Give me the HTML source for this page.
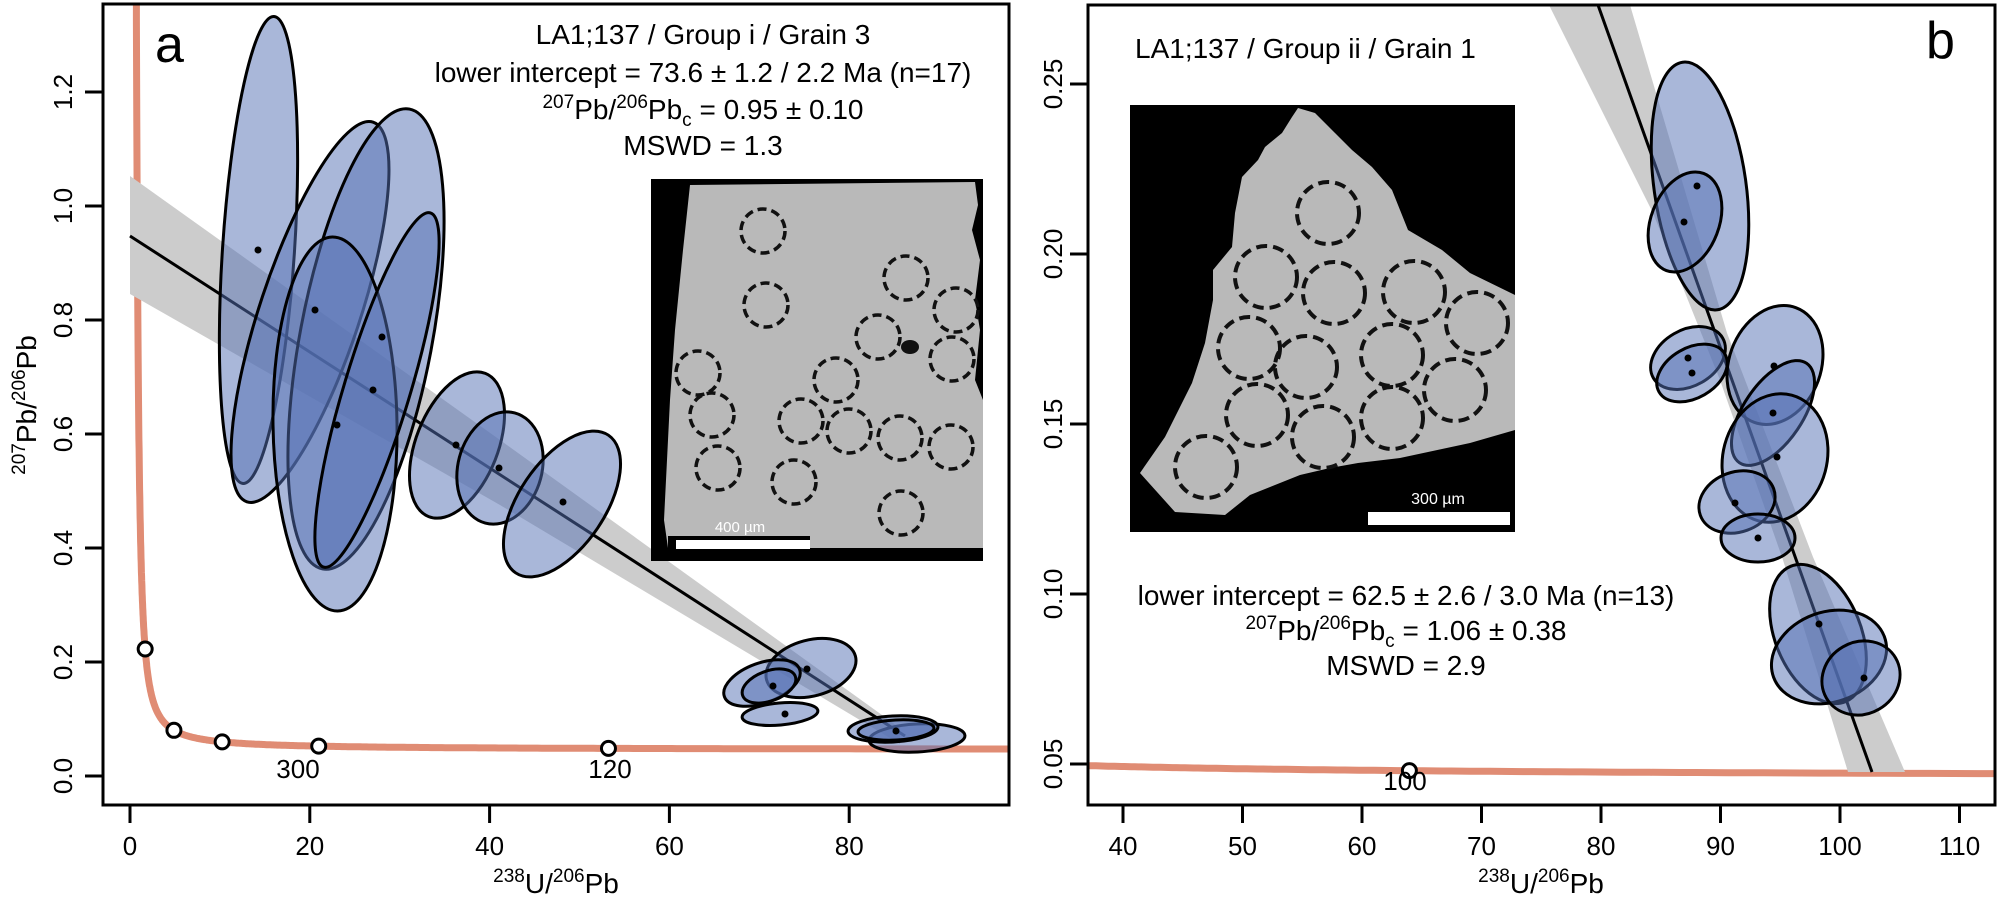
<!DOCTYPE html>
<html><head><meta charset="utf-8"><style>
html,body{margin:0;padding:0;background:#fff;}
svg{display:block;font-family:"Liberation Sans",Arial,sans-serif;}
</style></head><body>
<svg id="s" width="2000" height="903" viewBox="0 0 2000 903" xmlns="http://www.w3.org/2000/svg">
<defs>
<clipPath id="ca"><rect x="103" y="4" width="906" height="801"/></clipPath>
<clipPath id="cb"><rect x="1088" y="5" width="907" height="800"/></clipPath>
</defs>
<rect width="2000" height="903" fill="#fff"/>

<!-- PANEL A -->
<g clip-path="url(#ca)">
<path id="concA" d="" fill="none" stroke="#e08c74" stroke-width="7"/>
<polygon points="130,176 500,440 900,728 900,744 500,505 130,294" fill="#cccccc"/>
<line x1="130" y1="236" x2="905" y2="736" stroke="#000" stroke-width="3"/>
<g fill="rgba(83,111,180,0.5)" stroke="#000" stroke-width="3">
<ellipse cx="258.5" cy="250" rx="36" ry="234" transform="rotate(3.8 258.5 250)"/>
<ellipse cx="310" cy="312" rx="50" ry="200" transform="rotate(18.4 310 312)"/>
<ellipse cx="366" cy="339" rx="66" ry="234" transform="rotate(10.7 366 339)"/>
<ellipse cx="335" cy="424" rx="62" ry="187" transform="rotate(-0.8 335 424)"/>
<ellipse cx="377" cy="390" rx="33" ry="185" transform="rotate(16.8 377 390)"/>
<ellipse cx="457" cy="445" rx="41" ry="77" transform="rotate(21.6 457 445)"/>
<ellipse cx="500" cy="468" rx="42" ry="57" transform="rotate(15 500 468)"/>
<ellipse cx="562" cy="504" rx="43" ry="83" transform="rotate(34 562 504)"/>
<ellipse cx="811" cy="668" rx="46" ry="28" transform="rotate(-15 811 668)"/>
<ellipse cx="762" cy="683" rx="40" ry="20" transform="rotate(-20 762 683)"/>
<ellipse cx="769" cy="686" rx="28" ry="15" transform="rotate(-20 769 686)"/>
<ellipse cx="780" cy="714" rx="38" ry="11" transform="rotate(-5 780 714)"/>
<ellipse cx="917" cy="738" rx="48" ry="14" transform="rotate(-3 917 738)"/>
<ellipse cx="893" cy="729" rx="45" ry="13" transform="rotate(-3 893 729)"/>
<ellipse cx="896" cy="730" rx="38" ry="10" transform="rotate(-3 896 730)"/>
</g>
<g fill="#000">
<circle cx="258" cy="250" r="3.5"/><circle cx="315" cy="310" r="3.5"/><circle cx="382" cy="337" r="3.5"/>
<circle cx="337" cy="425" r="3.5"/><circle cx="373" cy="390" r="3.5"/><circle cx="456" cy="445" r="3.5"/>
<circle cx="499" cy="468" r="3.5"/><circle cx="563" cy="502" r="3.5"/><circle cx="807" cy="669" r="3.5"/>
<circle cx="773" cy="686" r="3.5"/><circle cx="785" cy="714" r="3.5"/><circle cx="896" cy="731" r="3.5"/>
</g>
<g id="circA" fill="#fff" stroke="#000" stroke-width="3"></g>
</g>
<rect x="103" y="4" width="906" height="801" fill="none" stroke="#000" stroke-width="3"/>
<text x="155" y="62" font-size="52">a</text>
<text x="298" y="778" font-size="26" text-anchor="middle">300</text>
<text x="610" y="778" font-size="26" text-anchor="middle">120</text>
<g font-size="28" text-anchor="middle">
<text x="703" y="44">LA1;137  / Group i / Grain 3</text>
<text x="703" y="82">lower intercept = 73.6 ± 1.2 / 2.2 Ma (n=17)</text>
<text x="703" y="119"><tspan font-size="19" dy="-11">207</tspan><tspan dy="11">Pb/</tspan><tspan font-size="19" dy="-11">206</tspan><tspan dy="11">Pb</tspan><tspan font-size="19" dy="7">c</tspan><tspan dy="-7"> = 0.95 ± 0.10</tspan></text>
<text x="703" y="155">MSWD = 1.3</text>
</g>
<!-- inset a -->
<rect x="651" y="179" width="332" height="382" fill="#000"/>
<polygon points="690,185 975,182 978,205 972,230 980,260 975,300 980,330 975,380 983,400 983,548 668,548 664,520 666,480 670,400 675,330 683,250" fill="#b9b9b9"/>
<ellipse cx="910" cy="347" rx="9" ry="7" fill="#111"/>
<g fill="none" stroke="#111" stroke-width="3.5" stroke-dasharray="9 5">
<circle cx="763" cy="231" r="22"/><circle cx="906" cy="278" r="22"/><circle cx="766" cy="305" r="22"/>
<circle cx="956" cy="310" r="22"/><circle cx="878" cy="337" r="22"/><circle cx="952" cy="359" r="22"/>
<circle cx="698" cy="373" r="22"/><circle cx="836" cy="380" r="22"/><circle cx="712" cy="415" r="22"/>
<circle cx="801" cy="421" r="22"/><circle cx="849" cy="431" r="22"/><circle cx="900" cy="438" r="22"/>
<circle cx="951" cy="447" r="22"/><circle cx="718" cy="468" r="22"/><circle cx="794" cy="482" r="22"/>
<circle cx="901" cy="513" r="22"/>
</g>
<rect x="668" y="536" width="142" height="13" fill="#000"/>
<rect x="676" y="540" width="134" height="9" fill="#fff"/>
<text x="740" y="532" font-size="15" fill="#fff" text-anchor="middle">400 µm</text>

<!-- axes a -->
<g stroke="#000" stroke-width="3">
<line x1="85" y1="776" x2="103" y2="776"/><line x1="85" y1="662" x2="103" y2="662"/>
<line x1="85" y1="548" x2="103" y2="548"/><line x1="85" y1="434" x2="103" y2="434"/>
<line x1="85" y1="320" x2="103" y2="320"/><line x1="85" y1="206" x2="103" y2="206"/>
<line x1="85" y1="92" x2="103" y2="92"/>
<line x1="130" y1="805" x2="130" y2="823"/><line x1="309.8" y1="805" x2="309.8" y2="823"/>
<line x1="489.6" y1="805" x2="489.6" y2="823"/><line x1="669.4" y1="805" x2="669.4" y2="823"/>
<line x1="849.2" y1="805" x2="849.2" y2="823"/>
</g>
<g font-size="26" text-anchor="middle">
<text transform="translate(72,776) rotate(-90)">0.0</text>
<text transform="translate(72,662) rotate(-90)">0.2</text>
<text transform="translate(72,548) rotate(-90)">0.4</text>
<text transform="translate(72,434) rotate(-90)">0.6</text>
<text transform="translate(72,320) rotate(-90)">0.8</text>
<text transform="translate(72,206) rotate(-90)">1.0</text>
<text transform="translate(72,92) rotate(-90)">1.2</text>
<text x="130" y="855">0</text><text x="309.8" y="855">20</text><text x="489.6" y="855">40</text>
<text x="669.4" y="855">60</text><text x="849.2" y="855">80</text>
</g>
<text x="556" y="893" font-size="28" text-anchor="middle"><tspan font-size="19" dy="-11">238</tspan><tspan dy="11">U/</tspan><tspan font-size="19" dy="-11">206</tspan><tspan dy="11">Pb</tspan></text>
<text transform="translate(36,405) rotate(-90)" font-size="28" text-anchor="middle"><tspan font-size="19" dy="-11">207</tspan><tspan dy="11">Pb/</tspan><tspan font-size="19" dy="-11">206</tspan><tspan dy="11">Pb</tspan></text>

<!-- PANEL B -->
<g clip-path="url(#cb)">
<path id="concB" d="" fill="none" stroke="#e08c74" stroke-width="7"/>
<polygon points="1549,5 1653,213 1720,380 1783,560 1848,772 1905,772 1813,557 1727,333 1630,5" fill="#cccccc"/>
<line x1="1598" y1="5" x2="1872" y2="772" stroke="#000" stroke-width="3"/>
<g fill="rgba(83,111,180,0.5)" stroke="#000" stroke-width="3">
<ellipse cx="1700" cy="186" rx="46" ry="125" transform="rotate(-8 1700 186)"/>
<ellipse cx="1685" cy="222" rx="34" ry="52" transform="rotate(21 1685 222)"/>
<ellipse cx="1688" cy="358" rx="40" ry="28" transform="rotate(-30 1688 358)"/>
<ellipse cx="1692" cy="373" rx="38" ry="25" transform="rotate(-30 1692 373)"/>
<ellipse cx="1775" cy="365" rx="46" ry="61" transform="rotate(20 1775 365)"/>
<ellipse cx="1773" cy="413" rx="29.5" ry="60" transform="rotate(34 1773 413)"/>
<ellipse cx="1775" cy="458" rx="52" ry="65" transform="rotate(15 1775 458)"/>
<ellipse cx="1737" cy="502" rx="39" ry="30" transform="rotate(-20 1737 502)"/>
<ellipse cx="1758" cy="538" rx="37" ry="24"/>
<ellipse cx="1818" cy="634" rx="43" ry="73" transform="rotate(-22 1818 634)"/>
<ellipse cx="1829" cy="657" rx="59" ry="45" transform="rotate(-20 1829 657)"/>
<ellipse cx="1861" cy="678" rx="40" ry="36" transform="rotate(-30 1861 678)"/>
</g>
<g fill="#000">
<circle cx="1697" cy="186" r="3.5"/><circle cx="1684" cy="222" r="3.5"/><circle cx="1688" cy="358" r="3.5"/>
<circle cx="1692" cy="373" r="3.5"/><circle cx="1774" cy="366" r="3.5"/><circle cx="1773" cy="413" r="3.5"/>
<circle cx="1777" cy="457" r="3.5"/><circle cx="1735" cy="503" r="3.5"/><circle cx="1758" cy="538" r="3.5"/>
<circle cx="1819" cy="624" r="3.5"/><circle cx="1864" cy="678" r="3.5"/>
</g>
<g id="circB" fill="#fff" stroke="#000" stroke-width="3"></g>
</g>
<rect x="1088" y="5" width="907" height="800" fill="none" stroke="#000" stroke-width="3"/>
<text x="1926" y="58" font-size="52">b</text>
<text x="1405" y="790" font-size="26" text-anchor="middle">100</text>
<text x="1135" y="58" font-size="28">LA1;137  / Group ii / Grain 1</text>
<g font-size="28" text-anchor="middle">
<text x="1406" y="605">lower intercept = 62.5 ± 2.6 / 3.0 Ma (n=13)</text>
<text x="1406" y="640"><tspan font-size="19" dy="-11">207</tspan><tspan dy="11">Pb/</tspan><tspan font-size="19" dy="-11">206</tspan><tspan dy="11">Pb</tspan><tspan font-size="19" dy="7">c</tspan><tspan dy="-7"> = 1.06 ± 0.38</tspan></text>
<text x="1406" y="675">MSWD = 2.9</text>
</g>
<!-- inset b -->
<rect x="1130" y="105" width="385" height="427" fill="#000"/>
<polygon points="1298,108 1315,113 1335,133 1352,150 1372,167 1392,190 1408,230 1442,250 1470,273 1515,295 1515,430 1470,443 1400,458 1358,463 1330,468 1300,475 1250,495 1225,515 1175,512 1140,473 1165,437 1192,383 1205,343 1213,300 1213,270 1232,247 1235,213 1242,177 1258,160 1265,147 1282,133 1292,117" fill="#b9b9b9"/>
<g fill="none" stroke="#111" stroke-width="4" stroke-dasharray="11 6">
<circle cx="1328" cy="213" r="31"/><circle cx="1266" cy="277" r="31"/><circle cx="1334" cy="293" r="31"/>
<circle cx="1414" cy="292" r="31"/><circle cx="1477" cy="323" r="31"/><circle cx="1249" cy="348" r="31"/>
<circle cx="1306" cy="367" r="31"/><circle cx="1392" cy="355" r="31"/><circle cx="1455" cy="390" r="31"/>
<circle cx="1257" cy="415" r="31"/><circle cx="1323" cy="437" r="31"/><circle cx="1392" cy="418" r="31"/>
<circle cx="1206" cy="467" r="31"/>
</g>
<rect x="1368" y="512" width="142" height="13" fill="#fff"/>
<text x="1438" y="504" font-size="16" fill="#fff" text-anchor="middle">300 µm</text>

<!-- axes b -->
<g stroke="#000" stroke-width="3">
<line x1="1070" y1="764" x2="1088" y2="764"/><line x1="1070" y1="594" x2="1088" y2="594"/>
<line x1="1070" y1="424" x2="1088" y2="424"/><line x1="1070" y1="254" x2="1088" y2="254"/>
<line x1="1070" y1="84" x2="1088" y2="84"/>
</g>
<g id="xtB" stroke="#000" stroke-width="3"></g>
<g font-size="26" text-anchor="middle">
<text transform="translate(1062,764) rotate(-90)">0.05</text>
<text transform="translate(1062,594) rotate(-90)">0.10</text>
<text transform="translate(1062,424) rotate(-90)">0.15</text>
<text transform="translate(1062,254) rotate(-90)">0.20</text>
<text transform="translate(1062,84) rotate(-90)">0.25</text>
<text x="1123" y="855">40</text><text x="1242.5" y="855">50</text><text x="1362" y="855">60</text>
<text x="1481.5" y="855">70</text><text x="1601" y="855">80</text><text x="1720.5" y="855">90</text>
<text x="1840" y="855">100</text><text x="1959.5" y="855">110</text>
</g>
<text x="1541" y="893" font-size="28" text-anchor="middle"><tspan font-size="19" dy="-11">238</tspan><tspan dy="11">U/</tspan><tspan font-size="19" dy="-11">206</tspan><tspan dy="11">Pb</tspan></text>
</svg>
<script>
(function(){
var l8=1.55125e-10,l5=9.8485e-10,R=137.818;
function cc(t){var a=Math.exp(l8*t)-1;return [1/a,(Math.exp(l5*t)-1)/a/R];}
function XA(v){return 130+8.99*v;} function YA(v){return 776-570*v;}
function XB(v){return 1123+11.95*(v-40);} function YB(v){return 254-3400*(v-0.20);}
var pa=[],pb=[];
for(var i=0;i<=600;i++){var t=Math.exp(Math.log(7e9)+(Math.log(3e7)-Math.log(7e9))*i/600);var p=cc(t);
pa.push((i?'L':'M')+XA(p[0]).toFixed(1)+','+YA(p[1]).toFixed(1));}
for(var j=0;j<=200;j++){var t2=2.5e8-j*(2.2e8/200);var q=cc(t2);
pb.push((j?'L':'M')+XB(q[0]).toFixed(1)+','+YB(q[1]).toFixed(1));}
document.getElementById('concA').setAttribute('d',pa.join(''));
document.getElementById('concB').setAttribute('d',pb.join(''));
var ns='http://www.w3.org/2000/svg';
[3e9,1.2e9,6e8,3e8,1.2e8].forEach(function(t){var p=cc(t);var c=document.createElementNS(ns,'circle');
c.setAttribute('cx',XA(p[0]));c.setAttribute('cy',YA(p[1]));c.setAttribute('r',7);document.getElementById('circA').appendChild(c);});
var p=cc(1e8);var c=document.createElementNS(ns,'circle');c.setAttribute('cx',XB(p[0]));c.setAttribute('cy',YB(p[1]));c.setAttribute('r',7);document.getElementById('circB').appendChild(c);
for(var v=40;v<=110;v+=10){var ln=document.createElementNS(ns,'line');var x=XB(v);
ln.setAttribute('x1',x);ln.setAttribute('x2',x);ln.setAttribute('y1',805);ln.setAttribute('y2',823);document.getElementById('xtB').appendChild(ln);}
})();
</script>
</body></html>
